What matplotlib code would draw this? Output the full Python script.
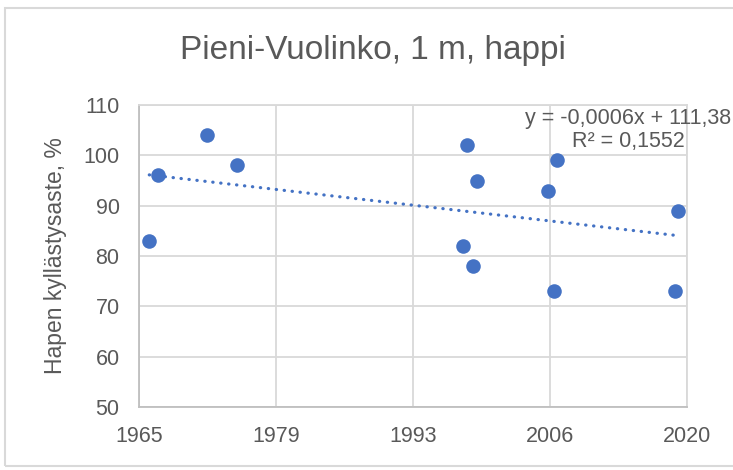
import numpy as np
import pandas as pd
import matplotlib
matplotlib.use('Agg')
import matplotlib.pyplot as plt
from matplotlib.patches import Rectangle

# sample dates and oxygen saturation (%)
dates = ['1966-09-25', '1967-07-30', '1972-06-15', '1975-07-10',
         '1998-01-13', '1998-06-20', '1999-01-14', '1999-06-23',
         '2006-08-13', '2007-03-09', '2007-06-16', '2019-04-05', '2019-07-24']
saturation = [83, 96, 104, 98, 82, 102, 78, 95, 93, 73, 99, 73, 89]

x_ticks = [24000, 29000, 34000, 39000, 44000]   # Excel date serials
y_ticks = [50, 60, 70, 80, 90, 100, 110]
eq_text = 'y = -0,0006x + 111,38\nR² = 0,1552'

# Excel serial day numbers
base = pd.Timestamp('1899-12-30')
xs = np.array([(pd.Timestamp(d) - base).days for d in dates], dtype=float)
ys = np.array(saturation, dtype=float)
tick_labels = [str((base + pd.Timedelta(days=t)).year) for t in x_ticks]

font = ['Liberation Sans Narrow', 'Liberation Sans', 'DejaVu Sans']
text_col = '#595959'
grid_col = '#D9D9D9'
blue = '#4472C4'

fig = plt.figure(figsize=(7.33, 4.70), dpi=100)
ax = fig.add_axes([139/733, 63/470, 548/733, 302/470])

ax.scatter(xs, ys, s=110, color=blue, zorder=3, linewidths=0)

# linear trendline
k, b = np.polyfit(xs, ys, 1)
tx = np.array([xs.min(), xs.max()])
ax.plot(tx, k * tx + b, color=blue, lw=2.3, linestyle=(0, (0.1, 2.4)),
        dash_capstyle='round', zorder=2)

ax.set_xlim(x_ticks[0], x_ticks[-1])
ax.set_ylim(y_ticks[0], y_ticks[-1])
ax.set_xticks(x_ticks)
ax.set_xticklabels(tick_labels)
ax.set_yticks(y_ticks)
ax.grid(True, color=grid_col, lw=1.3)
ax.set_axisbelow(True)
ax.tick_params(length=0, labelsize=15.5, labelcolor=text_col)
ax.tick_params(axis='x', pad=14)
ax.tick_params(axis='y', pad=14)
for lab in ax.get_xticklabels() + ax.get_yticklabels():
    lab.set_family(font)
for side in ['top', 'right']:
    ax.spines[side].set_color(grid_col)
    ax.spines[side].set_linewidth(1.3)
for side in ['left', 'bottom']:
    ax.spines[side].set_color('#BFBFBF')
    ax.spines[side].set_linewidth(1.3)

ax.set_ylabel('Hapen kyllästysaste, %', fontsize=16.5, color=text_col,
              family=font, labelpad=12)
fig.text(373/733, 1 - 50/470, 'Pieni-Vuolinko, 1 m, happi', fontsize=24,
         color=text_col, family=font, ha='center', va='center')
fig.text(628/733, 1 - 130/470, eq_text, fontsize=15.5, color=text_col,
         family=font, ha='center', va='center', linespacing=1.15)

# chart area border
fig.patches.append(Rectangle((5/733, 4/470), 740/733, 458/470,
                             transform=fig.transFigure, fill=False,
                             edgecolor='#D9D9D9', lw=1.5))

fig.savefig('out.png', dpi=100)
